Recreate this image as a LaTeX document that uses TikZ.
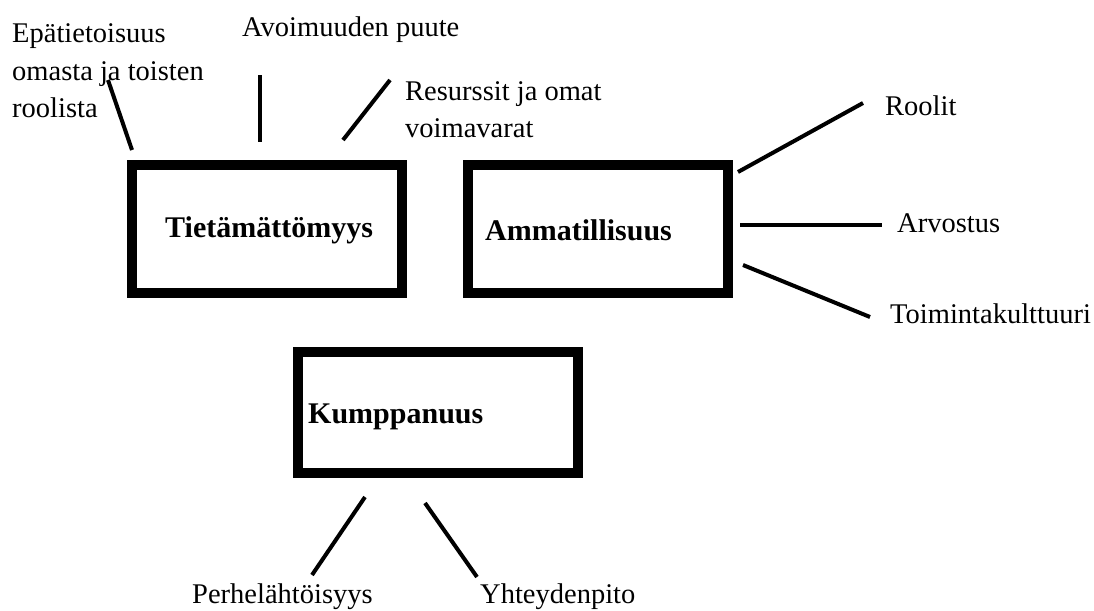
\documentclass[tikz,border=0pt]{standalone}
\usepackage{fontspec}
\setmainfont{LiberationSerif}[Extension=.ttf,UprightFont=*-Regular,BoldFont=*-Bold,ItalicFont=*-Italic,BoldItalicFont=*-BoldItalic]
\begin{document}
\begin{tikzpicture}[x=1pt,y=-1pt,
  box/.style={draw=black,line width=10pt,inner sep=0pt},
  boxtext/.style={font=\fontsize{30}{36}\selectfont\bfseries,inner sep=0pt,anchor=base west},
  lbl/.style={font=\fontsize{28.5}{37.5}\selectfont,inner sep=0pt,anchor=base west,align=left},
  conn/.style={line width=4pt}]
\path[use as bounding box,fill=white] (0,0) rectangle (1094,610);
% boxes
\node[box,minimum width=270pt,minimum height=128pt] (tiet) at (267,229) {};
\node[box,minimum width=260pt,minimum height=128pt] (amm) at (598,229) {};
\node[box,minimum width=280pt,minimum height=121pt] (kump) at (438,412.5) {};
\node[boxtext] (tiett) at (165,237) {Tietämättömyys};
\node[boxtext] (ammt) at (485,240) {Ammatillisuus};
\node[boxtext] (kumpt) at (308,423) {Kumppanuus};
% labels
\node[lbl] (epa1) at (12,42) {Epätietoisuus};
\node[lbl] (epa2) at (12,80) {omasta ja toisten};
\node[lbl] (epa3) at (12,117) {roolista};
\node[lbl] (avo) at (242,37) {Avoimuuden puute};
\node[lbl] (res1) at (405,100) {Resurssit ja omat};
\node[lbl] (res2) at (405,137) {voimavarat};
\node[lbl] (rool) at (885,115) {Roolit};
\node[lbl] (arvo) at (897,232) {Arvostus};
\node[lbl] (toim) at (890,323) {Toimintakulttuuri};
\node[lbl] (perh) at (192,603) {Perhelähtöisyys};
\node[lbl] (yhte) at (480,603) {Yhteydenpito};
% connector end points
\coordinate (e1) at (108,80);  \coordinate (e2) at (132,150);
\coordinate (a1) at (260,75);  \coordinate (a2) at (260,142);
\coordinate (r1) at (390,80);  \coordinate (r2) at (343,140);
\coordinate (ro1) at (738,172); \coordinate (ro2) at (863,103);
\coordinate (ar1) at (740,225); \coordinate (ar2) at (882,225);
\coordinate (to1) at (743,265); \coordinate (to2) at (870,317);
\coordinate (p1) at (365,497); \coordinate (p2) at (312,575);
\coordinate (y1) at (425,503); \coordinate (y2) at (477,577);
\draw[conn] (e1) -- (e2);
\draw[conn] (a1) -- (a2);
\draw[conn] (r1) -- (r2);
\draw[conn] (ro1) -- (ro2);
\draw[conn] (ar1) -- (ar2);
\draw[conn] (to1) -- (to2);
\draw[conn] (p1) -- (p2);
\draw[conn] (y1) -- (y2);
\end{tikzpicture}
\end{document}
